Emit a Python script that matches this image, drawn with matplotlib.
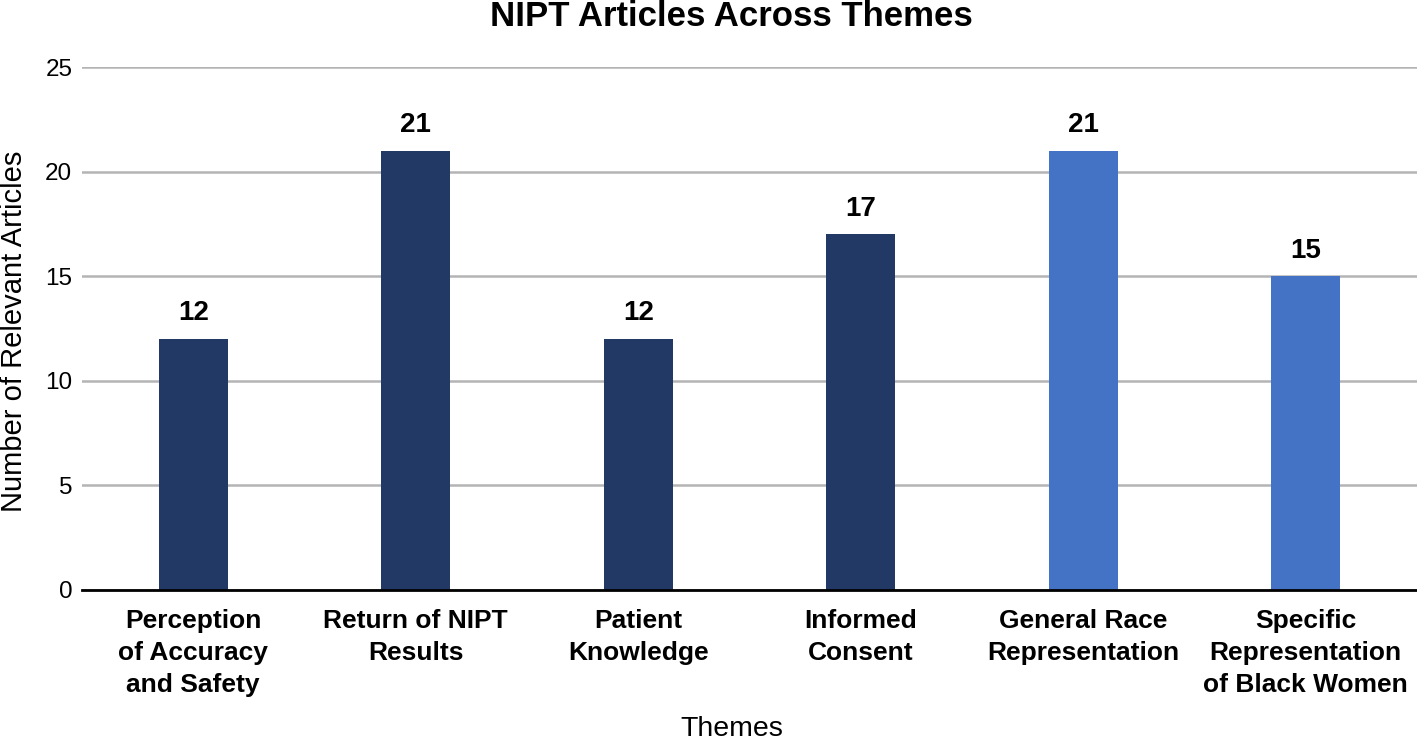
import matplotlib
matplotlib.use("Agg")
import matplotlib.pyplot as plt

categories = ["Perception\nof Accuracy\nand Safety", "Return of NIPT\nResults", "Patient\nKnowledge",
              "Informed\nConsent", "General Race\nRepresentation", "Specific\nRepresentation\nof Black Women"]
values = [12, 21, 12, 17, 21, 15]
colors = ["#213964", "#213964", "#213964", "#213964", "#4472c4", "#4472c4"]
yticks = [0, 5, 10, 15, 20, 25]

plt.rcParams['font.family'] = ['Liberation Sans', 'DejaVu Sans']

fig = plt.figure(figsize=(14.17, 7.41), dpi=100)
ax = fig.add_axes([82/1417, 1-590/741, 1-82/1417, (590-67)/741])

x = list(range(len(categories)))
ax.bar(x, values, width=0.31, color=colors, zorder=3)
for xi, v in zip(x, values):
    ax.text(xi, v + 0.6, str(v), ha='center', va='bottom', fontsize=20, fontweight='bold', zorder=4)

ax.set_xlim(-0.5, len(categories) - 0.5)
ax.set_ylim(0, 25)
ax.set_yticks(yticks)
ax.set_yticklabels([str(t) for t in yticks], fontsize=17.5)
ax.set_xticks(x)
ax.set_xticklabels(categories, fontsize=19, fontweight='bold', linespacing=1.42)
ax.tick_params(axis='y', length=0, pad=7)
ax.tick_params(axis='x', length=0, pad=14)
ax.yaxis.grid(True, color='#b4b4b4', linewidth=1.8, zorder=0)
ax.set_axisbelow(True)
for s in ['top', 'right', 'left']:
    ax.spines[s].set_visible(False)
ax.spines['bottom'].set_color('black')
ax.spines['bottom'].set_linewidth(2)
ax.spines['bottom'].set_zorder(5)

fig.text(731/1417, 1 - 16/741, "NIPT Articles Across Themes", ha='center', va='center', fontsize=25, fontweight='bold')
fig.text(732/1417, 1 - 729/741, "Themes", ha='center', va='center', fontsize=20.5)
fig.text(14/1417, 1 - 331/741, "Number of Relevant Articles", ha='center', va='center', fontsize=21, rotation=90)

fig.savefig("out.png", dpi=100)
